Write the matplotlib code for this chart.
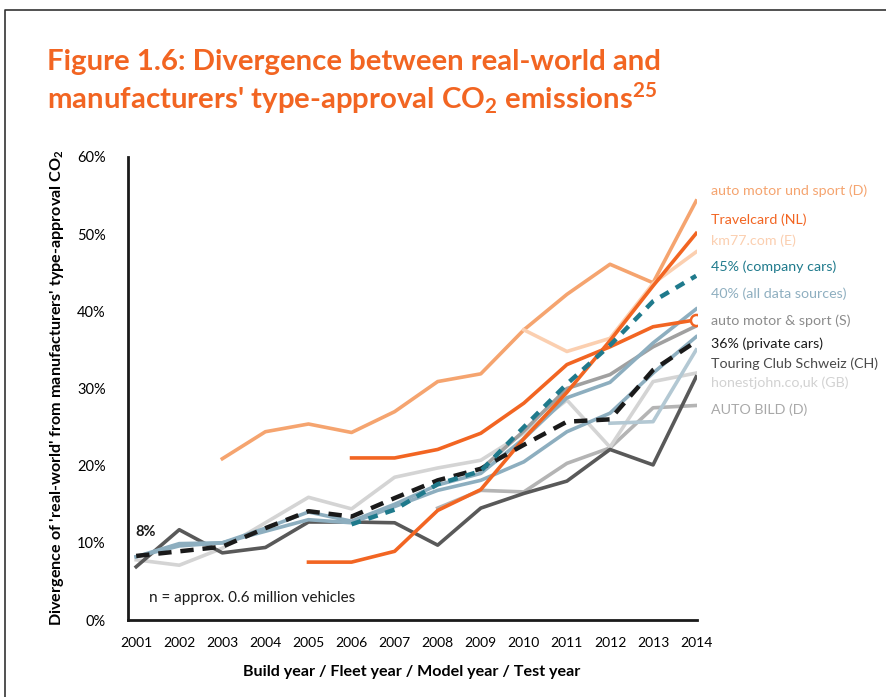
import matplotlib.pyplot as plt
from matplotlib.lines import Line2D

plt.rcParams['font.family'] = ['Lato', 'DejaVu Sans']
plt.rcParams['mathtext.fontset'] = 'custom'
plt.rcParams['mathtext.rm'] = 'Lato'
plt.rcParams['mathtext.bf'] = 'Lato:bold'

years = list(range(2001, 2015))

# series: (first year, values)
amus_d = (2003, [20.9, 24.4, 25.4, 24.3, 27.0, 30.9, 31.9, 37.6, 42.2, 46.1, 43.7, 54.3])
travelcard = (2005, [7.5, 7.5, 8.9, 14.2, 16.9, 23.5, 29.5, 36.2, 43.3, 50.1])
km77 = (2010, [37.6, 34.8, 36.5, 43.6, 47.7])
company = (2006, [12.4, 14.3, 17.6, 19.3, 25.0, 30.6, 35.6, 41.3, 44.6])
all_sources = (2001, [8.2, 9.9, 10.0, 11.9, 14.0, 12.8, 15.0, 17.5, 19.0, 23.5, 28.8, 30.8, 35.9, 40.3])
lower_blue = (2001, [8.2, 9.6, 10.0, 11.5, 13.0, 12.6, 14.7, 16.8, 18.1, 20.5, 24.4, 26.8, 32.0, 36.7])
light_blue = (2012, [25.5, 25.7, 35.0])
orange_circle = (2006, [21.0, 21.0, 22.1, 24.2, 28.1, 33.1, 35.4, 38.0, 38.9])
amus_s = (2009, [19.5, 24.5, 30.0, 31.8, 35.4, 38.1])
private = (2001, [8.3, 8.9, 9.5, 11.9, 14.1, 13.4, 15.8, 18.1, 19.6, 22.7, 25.7, 26.0, 32.4, 36.1])
tcs = (2001, [6.9, 11.7, 8.7, 9.4, 12.7, 12.7, 12.6, 9.7, 14.5, 16.4, 18.0, 22.1, 20.1, 31.5])
honestjohn = (2001, [7.8, 7.1, 9.3, 12.6, 15.9, 14.4, 18.5, 19.7, 20.7, 24.2, 28.5, 22.4, 30.9, 32.0])
autobild = (2008, [14.5, 16.8, 16.6, 20.3, 22.3, 27.5, 27.8])

labels = ['auto motor und sport (D)', 'Travelcard (NL)', 'km77.com (E)', '45% (company cars)',
          '40% (all data sources)', 'auto motor & sport (S)', '36% (private cars)',
          'Touring Club Schweiz (CH)', 'honestjohn.co,uk (GB)', 'AUTO BILD (D)']
label_colors = ['#F5A46F', '#F26522', '#FBCFB0', '#1F7A8C', '#8FAFC0', '#8C8C8C',
                '#1A1A1A', '#4A4A4A', '#D2D2D2', '#A8A8A8']
label_y = [191, 220, 241, 267, 294, 321, 344, 364, 383, 410]


def xs(s):
    return list(range(s[0], s[0] + len(s[1])))


fig = plt.figure(figsize=(8.86, 6.97), dpi=100)
ax = fig.add_axes([128 / 886, 1 - 620 / 697, (697 - 128) / 886, (620 - 157) / 697])

lw = 2.6
ax.plot(xs(autobild), autobild[1], color='#B4B4B4', lw=lw)
ax.plot(xs(honestjohn), honestjohn[1], color='#D4D4D4', lw=lw)
ax.plot(xs(tcs), tcs[1], color='#595959', lw=lw)
ax.plot(xs(lower_blue), lower_blue[1], color='#8DAEBF', lw=lw)
ax.plot(xs(light_blue), light_blue[1], color='#B3C8D3', lw=lw)
ax.plot(xs(amus_s), amus_s[1], color='#A0A0A0', lw=lw)
ax.plot(xs(all_sources), all_sources[1], color='#8DAEBF', lw=lw)
ax.plot(xs(orange_circle), orange_circle[1], color='#F26522', lw=lw)
ax.plot([orange_circle[0] + len(orange_circle[1]) - 1], [orange_circle[1][-1]], 'o',
        ms=8, mfc='white', mec='#F26522', mew=1.8)
ax.plot(xs(amus_d), amus_d[1], color='#F5A46F', lw=lw)
ax.plot(xs(km77), km77[1], color='#FBCFB0', lw=lw)
ax.plot(xs(travelcard), travelcard[1], color='#F26522', lw=lw)
ax.plot(xs(private), private[1], color='#1A1A1A', lw=3.2, ls=(0, (3, 2)))
ax.plot(xs(company), company[1], color='#1F7A8C', lw=3.2, ls=(0, (2.2, 1.8)))

ax.set_xlim(2000.81, 2014.02)
ax.set_ylim(0, 60)
ax.set_xticks(years)
ax.set_xticklabels([str(y) for y in years], fontsize=10)
ax.set_yticks(range(0, 61, 10))
ax.set_yticklabels([f'{v}%' for v in range(0, 61, 10)], fontsize=10.5)
ax.tick_params(length=0, pad=12)
ax.tick_params(axis='y', pad=16)
for s in ['top', 'right']:
    ax.spines[s].set_visible(False)
for s in ['left', 'bottom']:
    ax.spines[s].set_linewidth(2)
    ax.spines[s].set_color('#1A1A1A')

ax.text(2000.98, 10.9, '8%', fontsize=10.5, fontweight='bold', ha='left', color='#1A1A1A')
ax.text(2001.3, 2.3, 'n = approx. 0.6 million vehicles', fontsize=11, color='#1A1A1A')

for lab, c, y in zip(labels, label_colors, label_y):
    fig.text(711 / 886, 1 - y / 697, lab, fontsize=10.3, color=c, va='center')

fig.text(47 / 886, 1 - 62 / 697, 'Figure 1.6: Divergence between real-world and',
         fontsize=21.2, fontweight='bold', color='#F26522', va='center')
fig.text(47 / 886, 1 - 98 / 697,
         r"manufacturers' type-approval CO$_\mathbf{2}$ emissions$^\mathbf{25}$",
         fontsize=21.2, fontweight='bold', color='#F26522', va='center')

fig.text(57 / 886, 1 - 388 / 697,
         r"Divergence of 'real-world' from manufacturers' type-approval CO$_\mathbf{2}$",
         fontsize=11.6, fontweight='bold', rotation=90, ha='center', va='center')
fig.text(412 / 886, 1 - 672 / 697, 'Build year / Fleet year / Model year / Test year',
         fontsize=11.6, fontweight='bold', ha='center', va='center')

# page frame
fig.add_artist(Line2D([5 / 886, 5 / 886, 1], [0, 1 - 10 / 697, 1 - 10 / 697],
                      transform=fig.transFigure, color='#333333', lw=1.2))

fig.savefig('out.png', dpi=100)
